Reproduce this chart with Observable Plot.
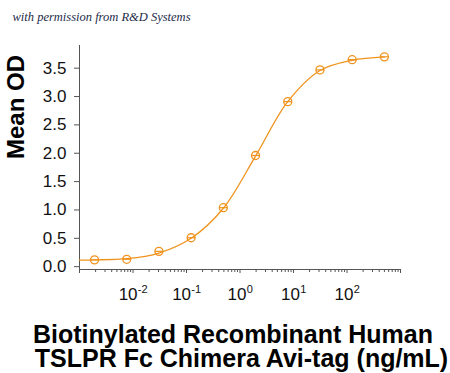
<!DOCTYPE html>
<html>
<head>
<meta charset="utf-8">
<script src="https://cdn.jsdelivr.net/npm/d3@7"></script>
<script src="https://cdn.jsdelivr.net/npm/@observablehq/plot@0.6"></script>
<style>
  html, body { margin: 0; padding: 0; background: #fff; }
  #chart svg { display: block; }
</style>
</head>
<body>
<div id="chart"></div>
<script>
// Data
const concentration = [0.00191, 0.00763, 0.0305, 0.122, 0.488, 1.95, 7.81, 31.25, 125, 500];
const meanOD = [0.12, 0.13, 0.27, 0.51, 1.04, 1.96, 2.91, 3.47, 3.65, 3.70];
// fitted curve
const fitConc = [0.001, 0.00191, 0.00763, 0.0305, 0.122, 0.488, 1.95, 7.81, 31.25, 125, 500];
const fitOD = [0.115, 0.12, 0.14, 0.24, 0.50, 1.03, 1.95, 2.91, 3.46, 3.64, 3.70];

const yTicks = [0, 0.5, 1.0, 1.5, 2.0, 2.5, 3.0, 3.5];
const xLabelExponents = [-2, -1, 0, 1, 2];
const xDecades = [-3, -2, -1, 0, 1, 2];
const xMinorMultipliers = [2, 3, 4, 5, 6, 7, 8, 9];
const yLabel = ["Mean OD"];
const titleLine1 = ["Biotinylated Recombinant Human"];
const titleLine2 = [" TSLPR Fc Chimera Avi-tag (ng/mL)"];
const watermark = ["with permission from R&D Systems"];

const orange = "#f0931e";
const axisColor = "#555";
const data = concentration.map((c, i) => ({c, od: meanOD[i]}));
const fit = fitConc.map((c, i) => ({c, od: fitOD[i]}));
const majorTicks = [...xDecades.map(d => 10 ** d), 1000];
const minorTicks = xDecades.flatMap(d => xMinorMultipliers.map(m => m * 10 ** d));

const barSymbol = {
  draw(context, size) {
    const r = Math.sqrt(size / Math.PI);
    context.moveTo(-r, 0);
    context.lineTo(r, 0);
  }
};

const labelMarks = xLabelExponents.flatMap(e => {
  const expText = String(e);
  const baseW = 18.9;
  const expW = e < 0 ? 9.8 : 6.1;
  const total = baseW + expW;
  const endX = baseW - total / 2;
  return [
    Plot.text([10 ** e], {x: d => d, frameAnchor: "bottom", text: () => "10",
      textAnchor: "end", lineAnchor: "bottom", dx: endX, dy: 30.5,
      fontSize: 17, fill: "#111"}),
    Plot.text([10 ** e], {x: d => d, frameAnchor: "bottom", text: () => expText,
      textAnchor: "start", lineAnchor: "bottom", dx: endX + 0.3, dy: 23,
      fontSize: 11, fill: "#111"})
  ];
});

const chart = Plot.plot({
  width: 450,
  height: 373,
  marginLeft: 79,
  marginRight: 50,
  marginTop: 45,
  marginBottom: 104,
  style: {fontFamily: "'Liberation Sans', Arial, sans-serif", fontSize: "17px", color: "#111", background: "#fff"},
  x: {type: "log", domain: [0.001, 1000]},
  y: {domain: [-0.05, 3.9]},
  marks: [
    Plot.frame({anchor: "left", stroke: axisColor}),
    Plot.frame({anchor: "bottom", stroke: axisColor}),
    Plot.axisY({ticks: yTicks, tickSize: 5, tickPadding: 8, tickFormat: d3.format(".1f"),
      label: null, stroke: axisColor, fontSize: 17, fill: "#111"}),
    Plot.axisX({ticks: majorTicks, tickSize: 4, tickFormat: () => "", label: null, stroke: axisColor}),
    Plot.axisX({ticks: minorTicks, tickSize: 3, tickFormat: () => "", label: null, stroke: axisColor}),
    ...labelMarks,
    Plot.line(fit, {x: "c", y: "od", stroke: orange, strokeWidth: 1.3, curve: "catmull-rom"}),
    Plot.dot(data, {x: "c", y: "od", r: 4, stroke: orange, strokeWidth: 1.3, fill: "none"}),
    Plot.dot(data, {x: "c", y: "od", r: 4, symbol: barSymbol, stroke: orange, strokeWidth: 1.2}),
    Plot.text(yLabel, {text: d => d, frameAnchor: "left", rotate: -90, dx: -63, dy: 1.5,
      fontSize: 24, fontWeight: "bold", fill: "#000", lineAnchor: "middle"}),
    Plot.text(titleLine1, {text: d => d, frameAnchor: "bottom", lineAnchor: "bottom",
      dx: -7, dy: 73, fontSize: 25, fontWeight: "bold", fill: "#000"}),
    Plot.text(titleLine2, {text: d => d, frameAnchor: "bottom", lineAnchor: "bottom",
      dx: -2, dy: 97, fontSize: 25, fontWeight: "bold", fill: "#000"}),
    Plot.text(watermark, {text: d => d, frameAnchor: "top-left", textAnchor: "start", lineAnchor: "bottom",
      dx: -67, dy: -25, fontSize: 12.5, fontStyle: "italic", fill: "#1b2a48",
      fontFamily: "'Liberation Serif', 'DejaVu Serif', serif"})
  ]
});
document.getElementById("chart").appendChild(chart);
</script>
</body>
</html>
